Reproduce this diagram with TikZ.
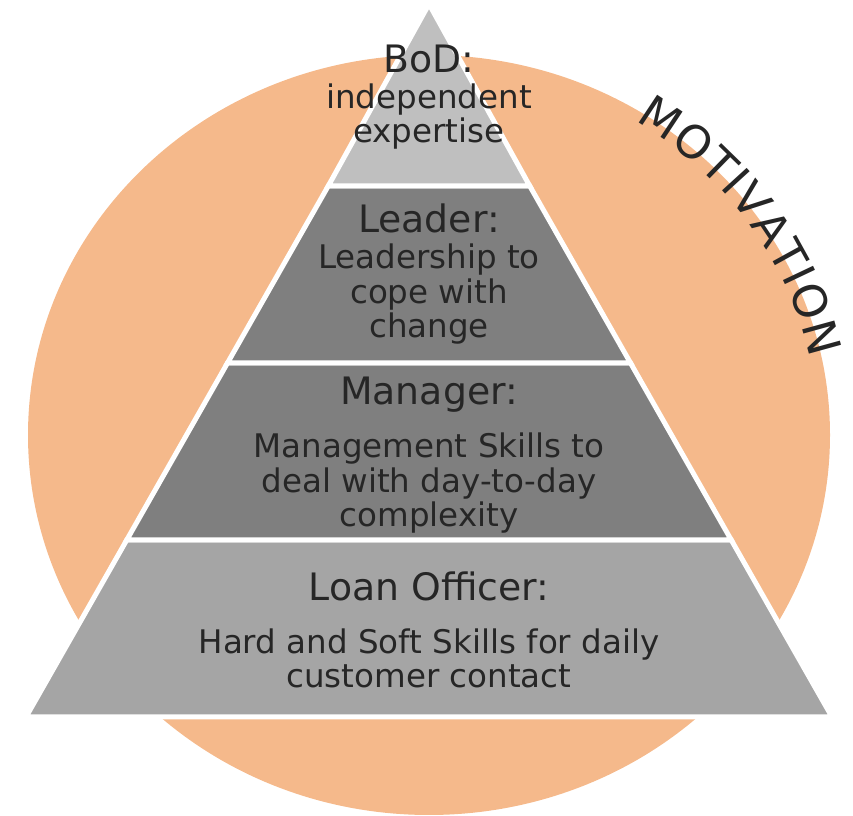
\documentclass[tikz,border=0pt]{standalone}
\usepackage{fontspec}
\setmainfont{DejaVu Sans}
\usetikzlibrary{decorations.text}

\definecolor{motivorange}{HTML}{F5B98B}
\definecolor{bodgray}{HTML}{BFBFBF}
\definecolor{midgray}{HTML}{7F7F7F}
\definecolor{loangray}{HTML}{A5A5A5}
\definecolor{textdark}{HTML}{262626}

\newcommand\headfont{\fontsize{21.5}{25}\selectfont}
\newcommand\bodyfont{\fontsize{18.5}{19.8}\selectfont}
\newcommand\motivfont{\fontsize{26}{30}\selectfont\color{textdark}}

\tikzset{
  layer/.style={draw=white, line width=.1cm},
  head/.style={anchor=base, inner sep=0pt, text=textdark, font=\headfont},
  %base of a multi-line node sits on its last line
  body/.style={anchor=base, inner sep=0pt, text=textdark, font=\bodyfont, align=center}
}

\begin{document}
\begin{tikzpicture}
		\useasboundingbox (0,0) rectangle (17.06,16.32);
		%Motivation ring behind the pyramid
		\fill[motivorange] (8.58,7.62) ellipse[x radius=8.02, y radius=7.60];
		\path[font=\motivfont, decorate, decoration={text along path, text align={fit to path},
			text={|\motivfont|MOTIVATION}}]
			(8.58,7.62) ++(58:7.8 and 7.4) arc[start angle=58, end angle=12, x radius=7.8, y radius=7.4];
		%Pyramid layers, bottom to top
		\draw[layer, fill=loangray] (0.52,1.98)--(16.64,1.98)--(14.625,5.52)--(2.535,5.52)--cycle;
		\draw[layer, fill=midgray] (2.535,5.52)--(14.625,5.52)--(12.61,9.06)--(4.55,9.06)--cycle;
		\draw[layer, fill=midgray] (4.55,9.06)--(12.61,9.06)--(10.595,12.60)--(6.565,12.60)--cycle;
		\draw[layer, fill=bodgray] (6.565,12.60)--(10.595,12.60)--(8.58,16.24)--cycle;
		%Labels
		\node[head] (bodHead) at (8.58,14.86) {BoD:};
		\node[body] (bodText) at (8.58,13.46) {independent\\expertise};
		\node[head] (leaderHead) at (8.58,11.66) {Leader:};
		\node[body] (leaderText) at (8.58,9.56) {Leadership to\\cope with\\change};
		\node[head] (managerHead) at (8.58,8.22) {Manager:};
		\node[body] (managerText) at (8.58,5.78) {Management Skills to\\deal with day-to-day\\complexity};
		\node[head] (loanHead) at (8.58,4.30) {Loan Officer:};
		\node[body] (loanText) at (8.58,2.56) {Hard and Soft Skills for daily\\customer contact};
\end{tikzpicture}
\end{document}
